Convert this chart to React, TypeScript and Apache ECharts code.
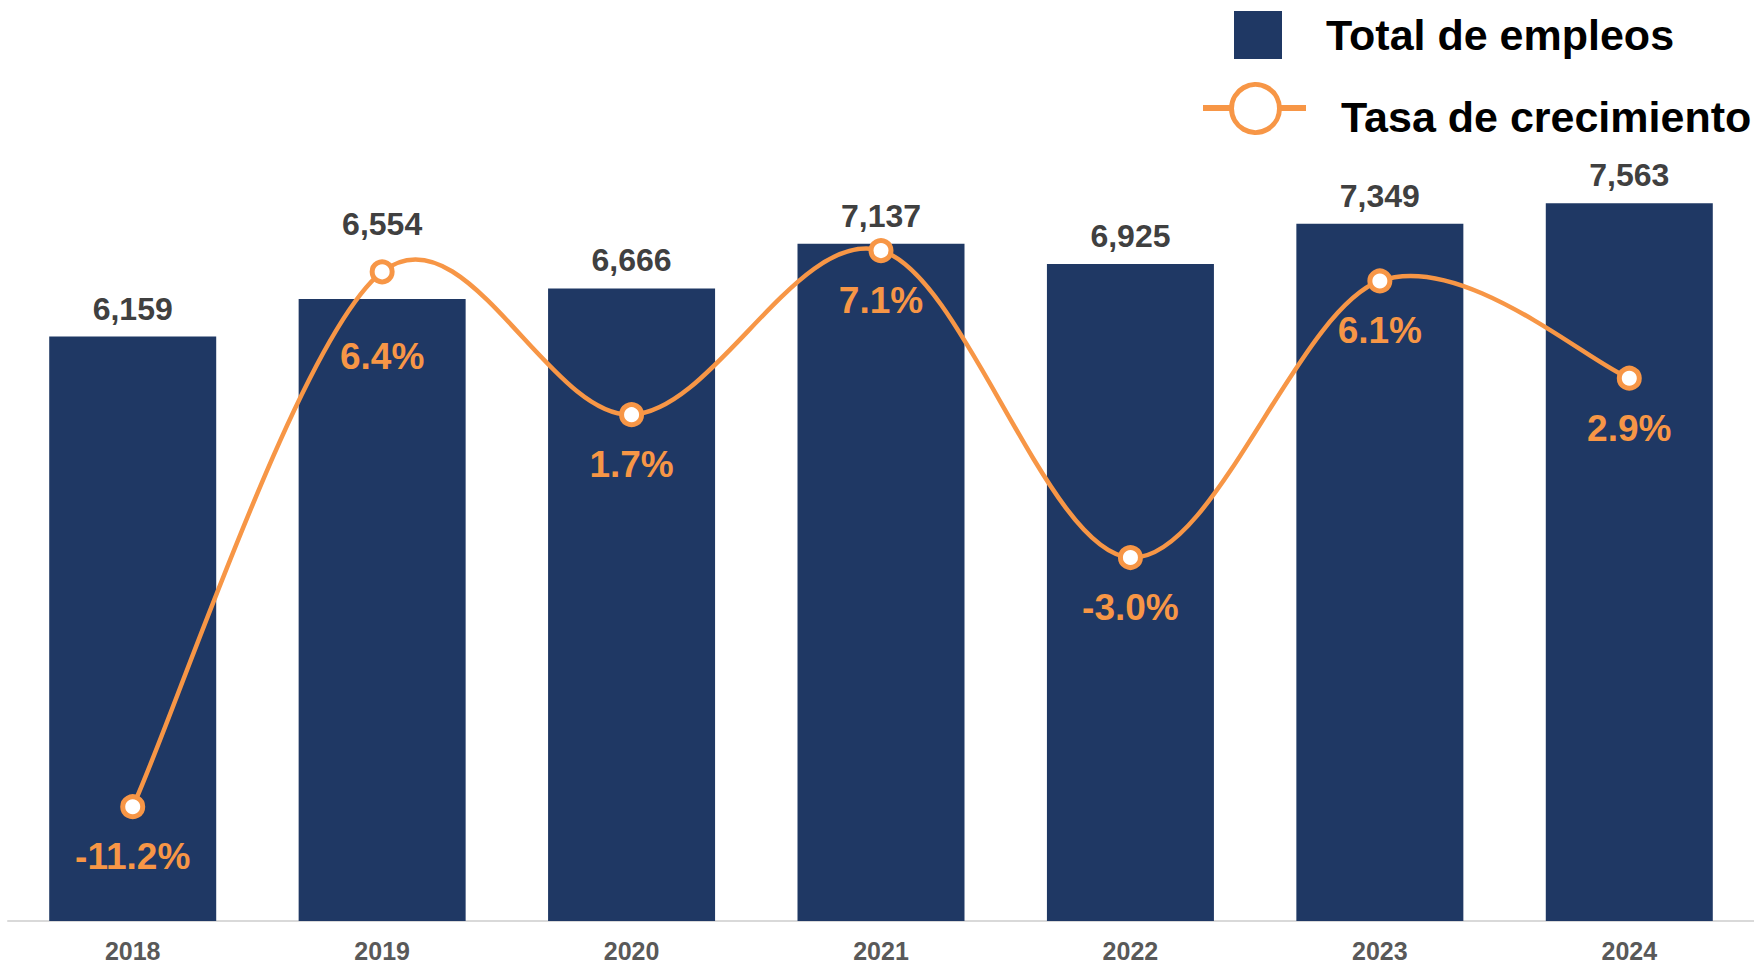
import React, { useEffect, useRef } from "react";
import * as echarts from "echarts";

const years = ["2018", "2019", "2020", "2021", "2022", "2023", "2024"];
const totalEmpleos = [6159, 6554, 6666, 7137, 6925, 7349, 7563];
const tasaCrecimiento = [-11.2, 6.4, 1.7, 7.1, -3.0, 6.1, 2.9];
const legendNames = ["Total de empleos", "Tasa de crecimiento"];

const NAVY = "#1F3864";
const ORANGE = "#F79646";
const FONT = '"Liberation Sans", Arial, sans-serif';

export default function App() {
  const ref = useRef<HTMLDivElement>(null);

  useEffect(() => {
    document.body.style.margin = "0";
    if (!ref.current) return;
    const chart = echarts.init(ref.current, null, { renderer: "svg" });
    const n = tasaCrecimiento.length;

    const barData = totalEmpleos.map((v, i) =>
      i === 1 ? { value: v, label: { distance: 59 } } : v
    );
    const lineData = tasaCrecimiento.map((v, i) =>
      i === 1 ? { value: v, label: { distance: 54 } } : v
    );

    chart.setOption({
      animation: false,
      backgroundColor: "#ffffff",
      textStyle: { fontFamily: FONT },
      grid: { left: 8, width: 1749, top: 67, bottom: 46, containLabel: false },
      xAxis: {
        type: "category",
        data: years,
        axisLine: { show: true, lineStyle: { color: "#D9D9D9", width: 2 } },
        axisTick: { show: false },
        axisLabel: {
          margin: 19,
          fontSize: 25,
          lineHeight: 22,
          fontWeight: "bold",
          color: "#595959",
          fontFamily: FONT,
        },
      },
      yAxis: [
        { type: "value", min: 0, max: 9000, show: false, splitLine: { show: false } },
        { type: "value", min: -14.96, max: 13.14, show: false, splitLine: { show: false } },
      ],
      series: [
        {
          name: legendNames[0],
          type: "bar",
          data: barData,
          barWidth: 167,
          itemStyle: { color: NAVY },
          label: {
            show: true,
            position: "top",
            distance: 12,
            fontSize: 32,
            fontWeight: "bold",
            color: "#404040",
            fontFamily: FONT,
            formatter: (p: any) => Number(p.value).toLocaleString("en-US"),
          },
          z: 1,
        },
        {
          name: legendNames[1] + " curva",
          type: "custom",
          yAxisIndex: 1,
          silent: true,
          data: tasaCrecimiento,
          z: 2,
          renderItem: (params: any, api: any) => {
            const i = params.dataIndex;
            if (i >= n - 1) return { type: "group", children: [] };
            const pt = (k: number) => {
              const kk = Math.max(0, Math.min(n - 1, k));
              return api.coord([kk, tasaCrecimiento[kk]]);
            };
            const p0 = pt(i - 1);
            const p1 = pt(i);
            const p2 = pt(i + 1);
            const p3 = pt(i + 2);
            return {
              type: "bezierCurve",
              shape: {
                x1: p1[0],
                y1: p1[1],
                cpx1: p1[0] + (p2[0] - p0[0]) / 6,
                cpy1: p1[1] + (p2[1] - p0[1]) / 6,
                cpx2: p2[0] - (p3[0] - p1[0]) / 6,
                cpy2: p2[1] - (p3[1] - p1[1]) / 6,
                x2: p2[0],
                y2: p2[1],
              },
              style: { stroke: ORANGE, lineWidth: 4.5, fill: "none" },
            };
          },
        },
        {
          name: legendNames[1],
          type: "line",
          yAxisIndex: 1,
          data: lineData,
          symbol: "circle",
          symbolSize: 20,
          lineStyle: { color: ORANGE, width: 0, opacity: 0 },
          itemStyle: { color: "#ffffff", borderColor: ORANGE, borderWidth: 5 },
          label: {
            show: true,
            position: "bottom",
            distance: 19,
            fontSize: 37,
            fontWeight: "bold",
            color: ORANGE,
            fontFamily: FONT,
            formatter: (p: any) => Number(p.value).toFixed(1) + "%",
          },
          z: 3,
        },
      ],
      graphic: [
        {
          type: "rect",
          shape: { x: 1234, y: 11, width: 48, height: 48 },
          style: { fill: NAVY },
        },
        {
          type: "text",
          x: 1326,
          y: 35,
          style: {
            text: legendNames[0],
            fontSize: 43,
            fontWeight: "bold",
            fontFamily: FONT,
            fill: "#000000",
            textVerticalAlign: "middle",
          },
        },
        {
          type: "line",
          shape: { x1: 1203, y1: 108, x2: 1306, y2: 108 },
          style: { stroke: ORANGE, lineWidth: 6 },
        },
        {
          type: "circle",
          shape: { cx: 1255.5, cy: 108.5, r: 24 },
          style: { fill: "#ffffff", stroke: ORANGE, lineWidth: 5 },
        },
        {
          type: "text",
          x: 1341,
          y: 117,
          style: {
            text: legendNames[1],
            fontSize: 43,
            fontWeight: "bold",
            fontFamily: FONT,
            fill: "#000000",
            textVerticalAlign: "middle",
          },
        },
      ],
    });
    return () => chart.dispose();
  }, []);

  return <div ref={ref} style={{ width: 1754, height: 967 }} />;
}
